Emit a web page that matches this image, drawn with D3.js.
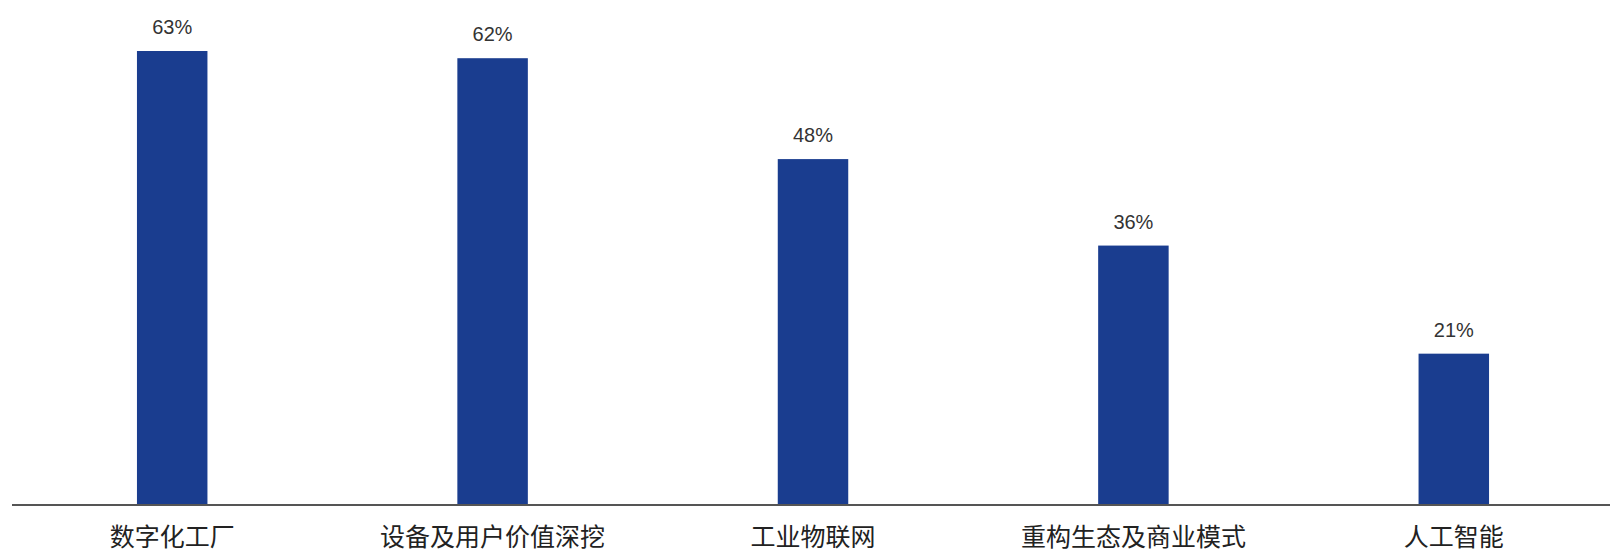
<!DOCTYPE html>
<html>
<head>
<meta charset="utf-8">
<script src="https://cdn.jsdelivr.net/npm/d3@7"></script>
<style>
  html, body { margin: 0; padding: 0; background: #fff; }
  svg { display: block; }
</style>
</head>
<body>
<div id="chart"></div>
<script>
// chart values
const categories = ["数字化工厂", "设备及用户价值深挖", "工业物联网", "重构生态及商业模式", "人工智能"];
const values = [63, 62, 48, 36, 21];

const width = 1610;
const height = 553;
const baseY = 505;

let svg = d3.select("#chart").append("svg")
  .attr("width", width)
  .attr("height", height);

let x = d3.scaleBand()
  .domain(categories)
  .range([12, 1614])
  .paddingInner(0.78)
  .paddingOuter(0.39);

let y = d3.scaleLinear()
  .domain([0, 63])
  .range([baseY, 51]);

// bars
svg.selectAll("rect.bar")
  .data(values)
  .enter().append("rect")
    .attr("class", "bar")
    .attr("x", (d, i) => x(categories[i]))
    .attr("y", d => y(d))
    .attr("width", x.bandwidth())
    .attr("height", d => baseY - y(d))
    .attr("fill", "#1a3d8f");

// value labels
svg.selectAll("text.val")
  .data(values)
  .enter().append("text")
    .attr("class", "val")
    .attr("x", (d, i) => x(categories[i]) + x.bandwidth() / 2)
    .attr("y", d => y(d) - 17)
    .attr("text-anchor", "middle")
    .attr("font-family", "Liberation Sans, Arial, sans-serif")
    .attr("font-size", 20)
    .attr("fill", "#333")
    .text(d => d + "%");

// bottom axis, no ticks
let axis = svg.append("g")
  .attr("transform", "translate(0," + baseY + ")")
  .call(d3.axisBottom(x).tickSize(0).tickPadding(0));

axis.select(".domain")
  .attr("d", "M12,0H1610")
  .attr("stroke", "#555")
  .attr("stroke-width", 2);

axis.selectAll(".tick text")
  .attr("y", 32)
  .attr("dy", "0.35em")
  .attr("font-family", "Noto Sans CJK SC, sans-serif")
  .attr("font-size", 25)
  .attr("fill", "#222");
</script>
</body>
</html>
